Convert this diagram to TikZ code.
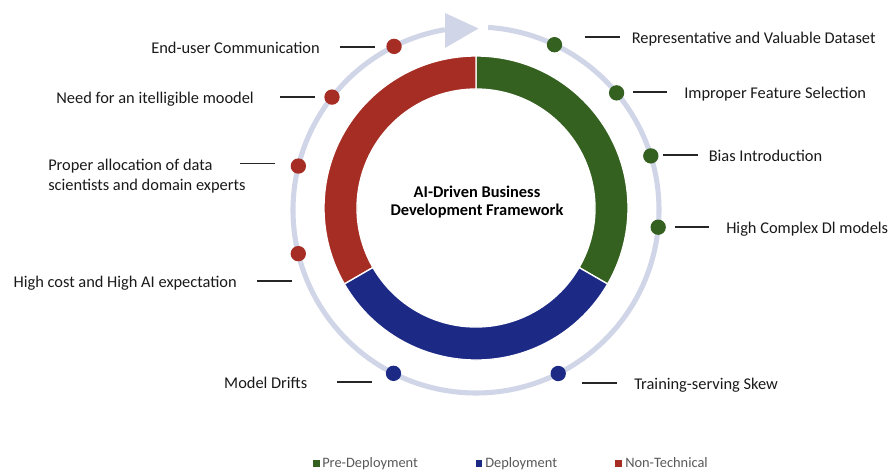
\documentclass[tikz,border=0pt]{standalone}
\usepackage{fontspec}
\setmainfont{Carlito}
\usetikzlibrary{calc}
\definecolor{grn}{HTML}{346020}
\definecolor{rd}{HTML}{A52D24}
\definecolor{bl}{HTML}{1C2A86}
\definecolor{lav}{HTML}{D0D6E8}
\definecolor{lgray}{HTML}{595959}
\definecolor{txt}{HTML}{1A1A1A}
\begin{document}
\begin{tikzpicture}[x=0.75pt,y=0.75pt,
  seg/.style={draw=white, line width=1},
  dot/.style={circle, inner sep=0pt, minimum size=11.5},
  lbl/.style={font=\fontsize{12.3}{15}\selectfont, text=txt, inner sep=0pt},
  tick/.style={draw=black!85, line width=0.8},
  ttl/.style={font=\fontsize{12.3}{13}\selectfont\bfseries, align=center, text=black, inner sep=0pt},
  legsq/.style={inner sep=0pt, minimum size=5.2},
  leg/.style={font=\fontsize{10.8}{12}\selectfont, text=lgray, inner sep=0pt, anchor=base west}]
\useasboundingbox (0,0) rectangle (891,-471);
\fill[white] (0,0) rectangle (891,-471);
\coordinate (c) at (476,-208);
\coordinate (cc) at (476,-210);
% outer thin circle with arrow
\draw[lav, line width=3.8] ($(cc)+(86.2:183)$) arc[start angle=86.2, end angle=-260.2, radius=183];
\fill[lav] (445,-13) -- (478.5,-28.5) -- (445,-48) -- cycle;
% ring segments
\path[seg, fill=grn] ($(c)+(90:152)$) arc[start angle=90, end angle=-30, radius=152]
  -- ($(c)+(-30:119)$) arc[start angle=-30, end angle=90, radius=119] -- cycle;
\path[seg, fill=rd] ($(c)+(90:152)$) arc[start angle=90, end angle=210, radius=152]
  -- ($(c)+(210:119)$) arc[start angle=210, end angle=90, radius=119] -- cycle;
\path[seg, fill=bl] ($(c)+(210:152)$) arc[start angle=210, end angle=330, radius=152]
  -- ($(c)+(330:119)$) arc[start angle=330, end angle=210, radius=119] -- cycle;
% title
\node[ttl] (title) at (477,-202) {AI-Driven Business\\Development Framework};
% dots
\node[dot, fill=rd] (d1) at ($(cc)+(116.6:183)$) {};
\node[dot, fill=rd] (d2) at ($(cc)+(141.9:183)$) {};
\node[dot, fill=rd] (d3) at ($(cc)+(166.1:183)$) {};
\node[dot, fill=rd] (d4) at ($(cc)+(193.8:183)$) {};
\node[dot, fill=bl] (d5) at ($(cc)+(243.2:183)$) {};
\node[dot, fill=grn] (d6) at ($(cc)+(64.6:183)$) {};
\node[dot, fill=grn] (d7) at ($(cc)+(39.8:183)$) {};
\node[dot, fill=grn] (d8) at ($(cc)+(17.2:183)$) {};
\node[dot, fill=grn] (d9) at ($(cc)+(-5.4:183)$) {};
\node[dot, fill=bl] (d10) at ($(cc)+(-63.3:183)$) {};
% left labels
\node[lbl, anchor=base east] (t1) at (320,-53.5) {End-user Communication};
\node[lbl, anchor=base east] (t2) at (254,-103.5) {Need for an itelligible moodel};
\node[lbl, anchor=north west, align=left] (t3) at (48,-158.5) {Proper allocation of data\\scientists and domain experts};
\node[lbl, anchor=base east] (t4) at (237,-287.5) {High cost and High AI expectation};
\node[lbl, anchor=base east] (t5) at (307.5,-388.5) {Model Drifts};
% right labels
\node[lbl, anchor=base west] (t6) at (631.5,-43.5) {Representative and Valuable Dataset};
\node[lbl, anchor=base west] (t7) at (684,-98.5) {Improper Feature Selection};
\node[lbl, anchor=base west] (t8) at (708.5,-161.5) {Bias Introduction};
\node[lbl, anchor=base west] (t9) at (726,-233.5) {High Complex Dl models};
\node[lbl, anchor=base west] (t10) at (634,-389.5) {Training-serving Skew};
% tick lines
\coordinate (a1) at (340,-47); \coordinate (b1) at (375,-47);
\coordinate (a2) at (280,-97); \coordinate (b2) at (315,-97);
\coordinate (a3) at (240,-163.5); \coordinate (b3) at (275,-163.5);
\coordinate (a4) at (257,-281); \coordinate (b4) at (292,-281);
\coordinate (a5) at (337,-382); \coordinate (b5) at (372,-382);
\coordinate (a6) at (585,-37); \coordinate (b6) at (620,-37);
\coordinate (a7) at (633,-92); \coordinate (b7) at (667,-92);
\coordinate (a8) at (663,-155); \coordinate (b8) at (698,-155);
\coordinate (a9) at (675,-227); \coordinate (b9) at (709,-227);
\coordinate (a10) at (582,-383); \coordinate (b10) at (617,-383);
\foreach \i in {1,...,10} {\draw[tick] (a\i) -- (b\i);}
% legend
\node[legsq, fill=grn] (s1) at (316.5,-463.5) {};
\node[leg] (g1) at (322,-467.5) {Pre-Deployment};
\node[legsq, fill=bl] (s2) at (479,-463.5) {};
\node[leg] (g2) at (485,-467.5) {Deployment};
\node[legsq, fill=rd] (s3) at (618.5,-463.5) {};
\node[leg] (g3) at (625,-467.5) {Non-Technical};
\end{tikzpicture}
\end{document}
